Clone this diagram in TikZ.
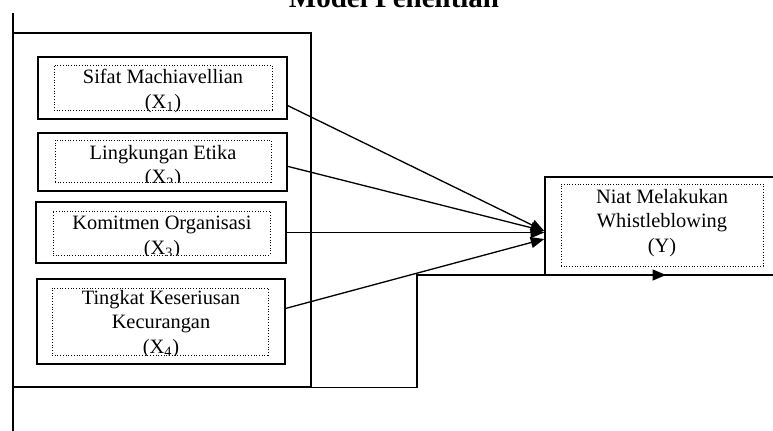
\documentclass[tikz,border=0pt]{standalone}
\usepackage{fontspec}
\setmainfont{Liberation Serif}
\usetikzlibrary{arrows.meta}

\begin{document}
\begin{tikzpicture}[x=0.02cm, y=-0.02cm,
    frame/.style={rectangle, draw, line width=0.9pt, inner sep=0pt},
    varbox/.style={rectangle, draw, line width=0.9pt, inner sep=0pt},
    textbox/.style={rectangle, draw, densely dotted, line width=0.55pt, inner sep=0pt},
    boxtext/.style={align=center, inner sep=0pt, anchor=north,
                    font=\fontsize{11.6}{13.9}\selectfont},
    arrow/.style={-{Triangle[length=0.27cm, width=0.22cm]}, line width=0.75pt}
]
\useasboundingbox (0,0) rectangle (773,430);

%% ── Title ───────────────────────────────────────────────────────────────────
\node[anchor=base, inner sep=0pt, font=\bfseries\fontsize{16.5}{20}\selectfont] (title) at (394,7) {Model Penelitian};

%% ── Independent variables ───────────────────────────────────────────────────
\node[frame, minimum width=5.96cm, minimum height=7.08cm] (frame) at (162,210) {};
\coordinate (linetop) at (13,13);
\coordinate (linebottom) at (13,440);
\draw[line width=0.9pt] (linetop) -- (linebottom);

\node[varbox, minimum width=4.98cm, minimum height=1.24cm] (sifat) at (162.5,88) {};
\node[textbox, minimum width=4.36cm, minimum height=0.90cm] (sifatin) at (163,87.5) {};
\node[boxtext] (sifattxt) at (163,69) {Sifat Machiavellian\\(X\textsubscript{1})};

\node[varbox, minimum width=4.98cm, minimum height=1.16cm] (lingkungan) at (162.5,162) {};
\node[textbox, minimum width=4.32cm, minimum height=0.84cm] (lingkunganin) at (163,161) {};
\begin{scope}
  \clip (lingkunganin.north west) rectangle (lingkunganin.south east);
  \node[boxtext] (lingkungantxt) at (163,145) {Lingkungan Etika\\(X\textsubscript{2})};
\end{scope}

\node[varbox, minimum width=5.00cm, minimum height=1.22cm] (komitmen) at (161,232.5) {};
\node[textbox, minimum width=4.34cm, minimum height=0.88cm] (komitmenin) at (161.5,233) {};
\begin{scope}
  \clip (komitmenin.north west) rectangle (komitmenin.south east);
  \node[boxtext] (komitmentxt) at (162,216) {Komitmen Organisasi\\(X\textsubscript{3})};
\end{scope}

\node[varbox, minimum width=4.96cm, minimum height=1.70cm] (tingkat) at (161,321.5) {};
\node[textbox, minimum width=4.32cm, minimum height=1.34cm] (tingkatin) at (160,321.5) {};
\begin{scope}
  \clip (tingkatin.north west) rectangle (tingkatin.south east);
  \node[boxtext] (tingkattxt) at (161,290) {Tingkat Keseriusan\\Kecurangan\\(X\textsubscript{4})};
\end{scope}

%% ── Dependent variable ──────────────────────────────────────────────────────
\node[varbox, minimum width=5.10cm, minimum height=1.96cm] (niat) at (672.5,226) {};
\node[textbox, minimum width=4.04cm, minimum height=1.64cm] (niatin) at (662,225) {};
\node[boxtext] (niattxt) at (662,189) {Niat Melakukan\\Whistleblowing\\(Y)};

%% ── Arrows ──────────────────────────────────────────────────────────────────
\draw[arrow] (sifat.-8)      -- ([yshift=-0.1cm]niat.west);
\draw[arrow] (lingkungan.-2) -- ([yshift=-0.1cm]niat.west);
\draw[arrow] (komitmen.east) -- (komitmen.east -| niat.west);
\draw[arrow] (tingkat.6)     -- ([yshift=-0.26cm]niat.west);

\coordinate (turn) at (417,275);
\coordinate (arrowend) at (666,275);
\draw[arrow] (frame.south east) -| (turn) -- (arrowend);

\end{tikzpicture}
\end{document}
